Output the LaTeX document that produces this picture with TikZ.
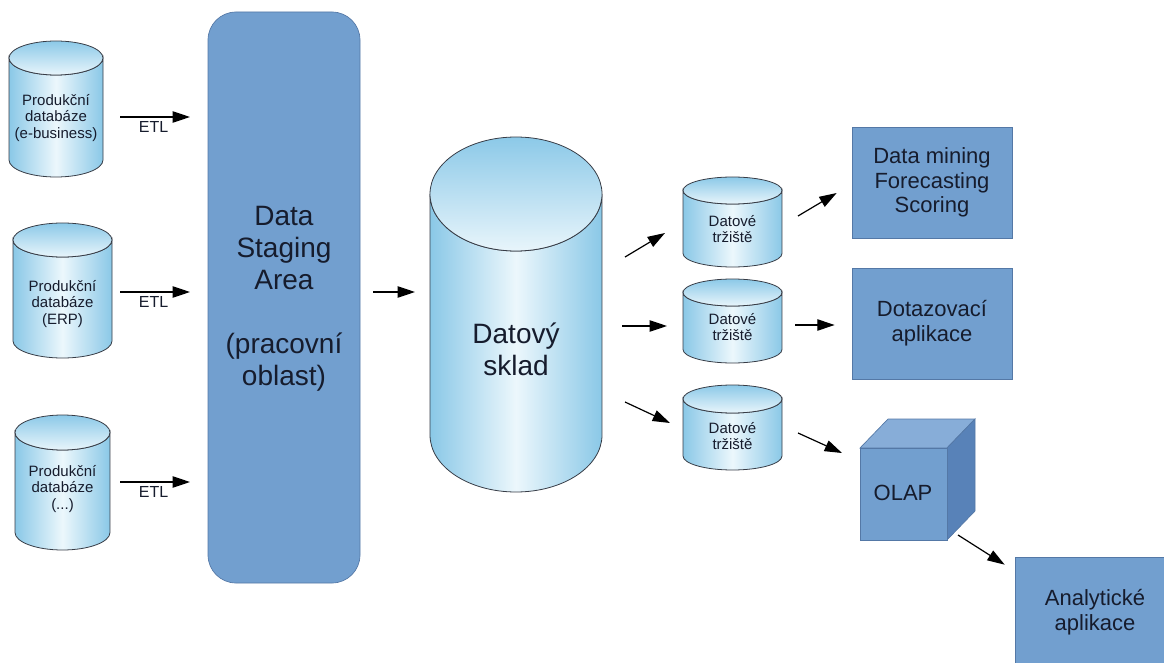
\documentclass[tikz,border=0pt]{standalone}
\usepackage{fontspec}
\setmainfont{Liberation Sans}
\usetikzlibrary{arrows.meta,calc,fit}

\definecolor{boxfill}{RGB}{114,159,207}
\definecolor{boxline}{RGB}{84,120,166}
\definecolor{cubetop}{RGB}{135,173,216}
\definecolor{cubeside}{RGB}{88,130,184}
\definecolor{cylEdge}{RGB}{138,200,231}
\definecolor{cylMid}{RGB}{236,247,252}
\definecolor{cylTopA}{RGB}{140,201,232}
\definecolor{cylTopB}{RGB}{232,245,251}
\definecolor{cylLine}{RGB}{55,60,70}
\definecolor{ink}{RGB}{22,28,45}

% database drum: centre x, top y, bottom y, x radius, y radius
\newcommand\drum[5]{%
  \path[left color=cylEdge, right color=cylEdge, middle color=cylMid,
        draw=cylLine, line width=0.6pt]
    ({#1-#4},{#2+#5}) -- ({#1-#4},{#3-#5})
    arc[start angle=180, end angle=0, x radius=#4, y radius=#5]
    -- ({#1+#4},{#2+#5})
    arc[start angle=0, end angle=180, x radius=#4, y radius=#5] -- cycle;
  \path[top color=cylTopA, bottom color=cylTopB, draw=cylLine, line width=0.6pt]
    (#1,{#2+#5}) ellipse[x radius=#4, y radius=#5];
}

\begin{document}
\begin{tikzpicture}[x=0.75pt,y=-0.75pt,
  frame/.style={inner sep=0pt, outer sep=0pt},
  lbl/.style={text=ink, align=center, inner sep=0pt},
  small/.style={lbl, font=\fontsize{11.25}{12.4}\selectfont},
  big/.style={lbl, font=\fontsize{21}{24}\selectfont},
  mid/.style={lbl, font=\fontsize{16.5}{18.5}\selectfont},
  appbox/.style={draw=boxline, fill=boxfill, line width=0.5pt},
  arr/.style={-{Triangle[length=13pt,width=8.5pt]}, line width=0.9pt, draw=black},
  etl/.style={text=ink, font=\fontsize{12}{14}\selectfont, inner sep=0pt,
              anchor=north, yshift=-3pt}
]
\clip (0,0) rectangle (1164,663);

% source databases
\drum{56}{41}{177}{47}{17}
\node[frame, fit={(9,41) (103,177)}] (c1) {};
\node[small] (c1t) at (56,118) {Produkční\\databáze\\(e-business)};

\drum{62.5}{223}{358}{49.5}{17}
\node[frame, fit={(13,223) (112,358)}] (c2) {};
\node[small] (c2t) at (62.5,304) {Produkční\\databáze\\(ERP)};

\drum{62.5}{415}{550}{47.5}{17.5}
\node[frame, fit={(15,415) (110,550)}] (c3) {};
\node[small] (c3t) at (62.5,489) {Produkční\\databáze\\(...)};

% staging area
\draw[appbox, rounded corners=21pt] (208,12) rectangle (360,583);
\node[frame, fit={(208,12) (360,583)}] (dsa) {};
\node[big] (dsat) at (284,299) {Data\\Staging\\Area\\[24pt](pracovní\\oblast)};

% warehouse
\drum{516}{137}{492}{86}{57}
\node[frame, fit={(430,137) (602,492)}] (wh) {};
\node[big] (wht) at (516,349) {Datový\\sklad};

% data marts
\drum{732.5}{177}{267}{49.5}{13.5}
\node[frame, fit={(683,177) (782,267)}] (m1) {};
\node[small] (m1t) at (732.5,229) {Datové\\tržiště};

\drum{732.5}{279}{363}{49.5}{13.5}
\node[frame, fit={(683,279) (782,363)}] (m2) {};
\node[small] (m2t) at (732.5,327) {Datové\\tržiště};

\drum{732.5}{385}{470}{49.5}{14}
\node[frame, fit={(683,385) (782,470)}] (m3) {};
\node[small] (m3t) at (732.5,436) {Datové\\tržiště};

% applications
\node[appbox, mid, minimum width=120pt, minimum height=83.25pt] (dm) at (932,182.5)
  {Data mining\\Forecasting\\Scoring};
\node[appbox, mid, minimum width=120pt, minimum height=83.25pt] (dq) at (932,323.5)
  {Dotazovací\\aplikace};
\node[appbox, mid, minimum width=120pt, minimum height=83.25pt] (an) at (1095,612.5)
  {Analytické\\aplikace};

% OLAP cube
\path[draw=boxline, line width=0.5pt, fill=cubetop]
  (860,448) -- (888,419) -- (975,419) -- (947,448) -- cycle;
\path[draw=boxline, line width=0.5pt, fill=cubeside]
  (947,448) -- (975,419) -- (975,511) -- (947,540) -- cycle;
\path[draw=boxline, line width=0.5pt, fill=boxfill]
  (860,448) rectangle (947,540);
\node[frame, fit={(860,448) (947,540)}] (olap) {};
\node[mid] (olapt) at (903,493) {OLAP};

% ETL flows
\draw[arr] ($(c1.east)+(17,8)$) -- ($(c1.east -| dsa.west)+(-18,8)$)
  node[etl, pos=0.48] (etl1) {ETL};
\draw[arr] ($(c2.east)+(8,1.5)$) -- ($(c2.east -| dsa.west)+(-18,1.5)$)
  node[etl, pos=0.48] (etl2) {ETL};
\draw[arr] ($(c3.east)+(10,-0.5)$) -- ($(c3.east -| dsa.west)+(-18,-0.5)$)
  node[etl, pos=0.48] (etl3) {ETL};

% loading and distribution
\draw[arr] ($(dsa.east)+(13,-5.5)$) -- ($(dsa.east -| wh.west)+(-15,-5.5)$);
\draw[arr] ($(wh.east)+(23,-57.5)$) -- ($(m1.west)+(-18,11)$);
\draw[arr] ($(wh.east)+(20,11.5)$) -- ($(m2.west)+(-16,5)$);
\draw[arr] ($(wh.east)+(23,87.5)$) -- ($(m3.west)+(-13,-4.5)$);
\draw[arr] ($(m1.east)+(16,-6)$) -- ($(dm.west)+(-15,10.5)$);
\draw[arr] ($(m2.east)+(13,4)$) -- ($(dq.west)+(-17,1.5)$);
\draw[arr] ($(m3.east)+(16,5.5)$) -- ($(olap.west)+(-18,-41)$);
\draw[arr] ($(olap.south east)+(11,-5)$) -- ($(an.north west)+(-10,8)$);
\end{tikzpicture}
\end{document}
